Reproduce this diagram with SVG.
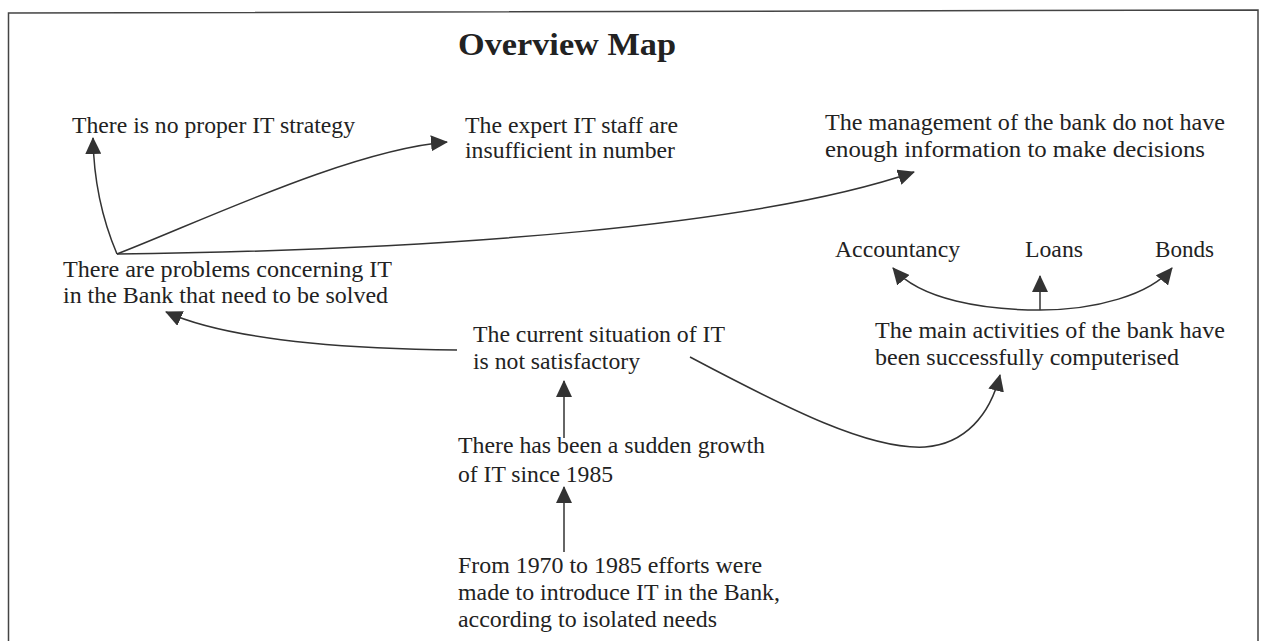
<svg xmlns="http://www.w3.org/2000/svg" width="1266" height="641" viewBox="0 0 1266 641">
<defs>
<style>
.t{font-family:"Liberation Serif","Times New Roman",serif;font-size:24px;fill:#222}
.title{font-family:"Liberation Serif","Times New Roman",serif;font-size:32px;font-weight:bold;fill:#222}
.c{fill:none;stroke:#333;stroke-width:1.5}
</style>
<marker id="ah" viewBox="0 0 17 16" markerWidth="17" markerHeight="16" refX="16" refY="8" orient="auto" markerUnits="userSpaceOnUse">
<path d="M0,0 L17,8 L0,16 z" fill="#333"/>
</marker>
</defs>
<rect width="1266" height="641" fill="#fff"/>
<path d="M8.5,660 L8.5,13 L1258,10 L1258,660" fill="none" stroke="#444" stroke-width="1.5"/>
<text class="title" x="458" y="55" textLength="218" lengthAdjust="spacingAndGlyphs">Overview Map</text>

<g id="connectors">
<path class="c" d="M117,254 Q94,200 93,138" marker-end="url(#ah)"/>
<path class="c" d="M117,254 C200,222 350,150 447,142" marker-end="url(#ah)"/>
<path class="c" d="M117,254 C450,250 760,225 914,172" marker-end="url(#ah)"/>
<path class="c" d="M1040,310 C985,310 920,300 893,268" marker-end="url(#ah)"/>
<path class="c" d="M1040,310 C1095,310 1150,295 1172,268" marker-end="url(#ah)"/>
<path class="c" d="M1040,310 L1040,276" marker-end="url(#ah)"/>
<path class="c" d="M457,350 C380,349 240,345 166,312" marker-end="url(#ah)"/>
<path class="c" d="M690,357 C790,410 870,450 925,447 C965,444 990,415 1000,375" marker-end="url(#ah)"/>
<path class="c" d="M564,438 L564,381" marker-end="url(#ah)"/>
<path class="c" d="M564,552 L564,487" marker-end="url(#ah)"/>
</g>

<g id="n-strategy"><text class="t" x="72" y="133" textLength="283" lengthAdjust="spacingAndGlyphs">There is no proper IT strategy</text></g>
<g id="n-staff">
<text class="t" x="465" y="133" textLength="213" lengthAdjust="spacingAndGlyphs">The expert IT staff are</text>
<text class="t" x="465" y="158" textLength="210" lengthAdjust="spacingAndGlyphs">insufficient in number</text>
</g>
<g id="n-management">
<text class="t" x="825" y="130" textLength="400" lengthAdjust="spacingAndGlyphs">The management of the bank do not have</text>
<text class="t" x="825" y="157" textLength="380" lengthAdjust="spacingAndGlyphs">enough information to make decisions</text>
</g>
<g id="n-problems">
<text class="t" x="63" y="277" textLength="329" lengthAdjust="spacingAndGlyphs">There are problems concerning IT</text>
<text class="t" x="63" y="303" textLength="325" lengthAdjust="spacingAndGlyphs">in the Bank that need to be solved</text>
</g>
<g id="n-accountancy"><text class="t" x="835" y="257" textLength="125" lengthAdjust="spacingAndGlyphs">Accountancy</text></g>
<g id="n-loans"><text class="t" x="1025" y="257" textLength="58" lengthAdjust="spacingAndGlyphs">Loans</text></g>
<g id="n-bonds"><text class="t" x="1155" y="257" textLength="59" lengthAdjust="spacingAndGlyphs">Bonds</text></g>
<g id="n-current">
<text class="t" x="473" y="342" textLength="252" lengthAdjust="spacingAndGlyphs">The current situation of IT</text>
<text class="t" x="473" y="369" textLength="167" lengthAdjust="spacingAndGlyphs">is not satisfactory</text>
</g>
<g id="n-activities">
<text class="t" x="875" y="338" textLength="350" lengthAdjust="spacingAndGlyphs">The main activities of the bank have</text>
<text class="t" x="875" y="365" textLength="304" lengthAdjust="spacingAndGlyphs">been successfully computerised</text>
</g>
<g id="n-growth">
<text class="t" x="458" y="453" textLength="307" lengthAdjust="spacingAndGlyphs">There has been a sudden growth</text>
<text class="t" x="458" y="482" textLength="155" lengthAdjust="spacingAndGlyphs">of IT since 1985</text>
</g>
<g id="n-efforts">
<text class="t" x="458" y="573" textLength="304" lengthAdjust="spacingAndGlyphs">From 1970 to 1985 efforts were</text>
<text class="t" x="458" y="600" textLength="322" lengthAdjust="spacingAndGlyphs">made to introduce IT in the Bank,</text>
<text class="t" x="458" y="627" textLength="259" lengthAdjust="spacingAndGlyphs">according to isolated needs</text>
</g>
</svg>
